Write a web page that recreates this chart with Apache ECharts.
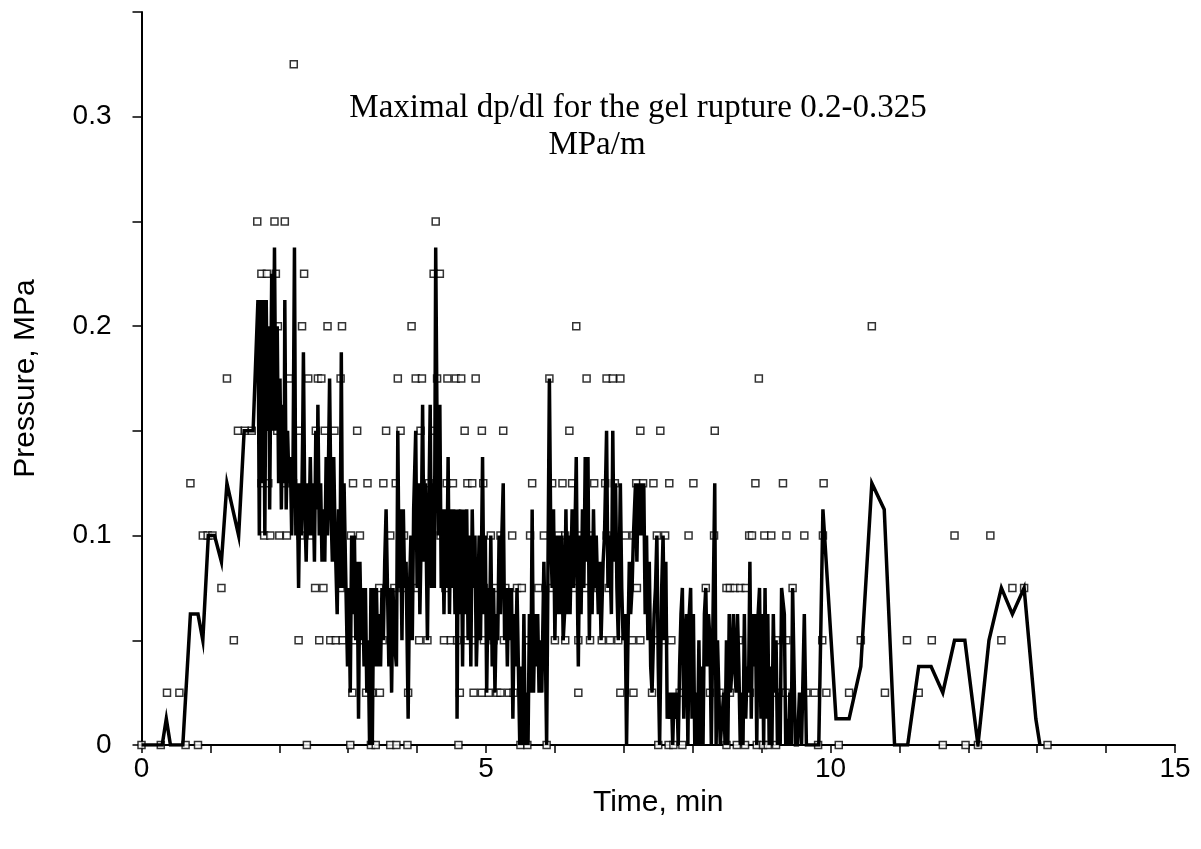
<!DOCTYPE html>
<html><head><meta charset="utf-8">
<script src="https://cdn.jsdelivr.net/npm/echarts@6/dist/echarts.min.js"></script>
<style>html,body{margin:0;padding:0;background:#fff}#c{width:1201px;height:849px}</style>
</head><body><div id="c"></div>
<script>
// ---- data ----
const xLabelTicks = [0, 5, 10, 15];
const yLabelTicks = [0, 0.1, 0.2, 0.3];
const titleLines = ["Maximal dp/dl for the gel rupture 0.2-0.325", "MPa/m"];

// measured points (hollow squares), grouped by pressure level (MPa): times in min
const t_0000 = [0.0,0.28,0.64,0.82,2.40,3.03,3.33,3.40,3.61,3.70,3.86,4.60,5.50,5.60,5.88,7.50,7.65,7.72,7.85,8.49,8.64,8.76,8.93,9.02,9.09,9.21,9.82,10.12,11.63,11.96,12.14,13.15];
const t_0025 = [0.37,0.55,3.06,3.26,3.35,3.46,3.87,4.62,4.82,4.94,5.04,5.16,5.21,5.33,5.40,6.34,6.95,7.14,7.41,7.81,8.25,8.39,8.54,8.83,8.97,9.17,9.29,9.35,9.65,9.77,9.94,10.27,10.79,11.28];
const t_0050 = [1.34,2.28,2.58,2.74,2.82,2.92,3.09,3.18,3.50,4.03,4.15,4.39,4.49,4.58,4.73,4.82,4.97,5.11,5.26,5.60,6.00,6.15,6.34,6.51,6.68,6.80,6.92,7.12,7.24,7.48,7.57,7.69,7.88,8.24,8.67,9.21,9.36,9.88,10.44,11.11,11.47,12.48];
const t_0075 = [1.16,2.52,2.64,2.89,3.45,3.67,3.79,4.00,4.41,4.73,4.97,5.14,5.28,5.45,5.52,5.76,5.96,6.13,6.27,6.44,6.63,6.78,7.19,8.19,8.49,8.54,8.61,8.69,8.77,9.45,12.64,12.81];
const t_0100 = [0.89,0.96,1.03,1.78,1.87,2.00,2.11,2.31,2.47,3.04,3.17,3.61,3.81,4.20,4.34,5.07,5.21,5.38,5.64,5.84,6.05,6.15,6.37,6.51,6.75,7.02,7.14,7.48,7.60,7.94,8.31,8.82,8.86,9.04,9.14,9.36,9.62,9.89,11.80,12.32];
const t_0125 = [0.71,1.74,1.84,2.08,2.20,3.07,3.28,3.51,3.69,4.17,4.30,4.43,4.52,4.73,4.80,4.96,5.67,5.96,6.11,6.25,6.57,6.73,6.87,7.18,7.28,7.43,7.66,8.01,8.91,9.31,9.90];
const t_0150 = [1.40,1.50,1.60,1.97,2.28,2.53,2.66,2.80,3.13,3.55,3.76,4.05,4.24,4.69,4.94,5.25,6.21,7.24,7.53,8.32];
const t_0175 = [1.24,2.14,2.42,2.56,2.61,2.89,3.72,3.98,4.07,4.29,4.44,4.56,4.64,4.85,5.92,6.46,6.75,6.84,6.95,8.96];
const t_0200 = [1.98,2.33,2.70,2.91,3.92,6.31,10.60];
const t_0225 = [1.74,1.82,1.95,2.36,4.24,4.33];
const t_0250 = [1.68,1.93,2.08,4.27];
const t_0325 = [2.21];

// thick line (time, pressure)
const linePoints = [
[0,0],[0.30,0],[0.36,0.0125],[0.42,0],[0.60,0],[0.71,0.0625],[0.82,0.0625],[0.89,0.05],[0.97,0.1],[1.06,0.1],[1.16,0.0875],[1.24,0.125],[1.41,0.1],[1.49,0.15],[1.62,0.15],
[1.69,0.2125],[1.71,0.1],[1.73,0.2125],[1.75,0.125],[1.77,0.2125],[1.79,0.1],[1.81,0.2125],[1.83,0.15],[1.85,0.2],[1.86,0.1125],[1.89,0.225],[1.91,0.15],[1.93,0.2375],[1.95,0.15],[1.97,0.2],
[1.99,0.125],[2.01,0.175],[2.03,0.1125],[2.05,0.1625],[2.07,0.125],[2.08,0.2125],[2.10,0.1125],[2.12,0.15],[2.14,0.125],[2.16,0.1375],[2.18,0.1],[2.20,0.1375],[2.22,0.2375],[2.24,0.1],[2.26,0.125],[2.28,0.075],[2.30,0.125],[2.32,0.1],[2.34,0.15],[2.35,0.1875],[2.37,0.1125],[2.39,0.0875],[2.41,0.125],[2.43,0.1],[2.45,0.1375],[2.47,0.1],[2.49,0.125],[2.51,0.0875],[2.53,0.15],[2.55,0.1125],[2.56,0.1625],[2.58,0.1],[2.60,0.125],[2.62,0.0875],[2.64,0.1125],[2.66,0.0875],[2.68,0.1375],[2.70,0.1],[2.73,0.175],[2.75,0.1125],[2.77,0.0875],[2.79,0.1375],[2.81,0.1],[2.84,0.0625],[2.86,0.1125],[2.88,0.075],[2.90,0.1875],[2.92,0.075],[2.94,0.125],[2.96,0.0875],[2.99,0.0375],
[3.01,0.075],[3.03,0.025],[3.05,0.1],[3.07,0.0625],[3.09,0.1],[3.11,0.05],[3.13,0.0875],[3.15,0.0125],[3.17,0.0875],[3.19,0.05],[3.21,0.075],[3.23,0.0375],[3.25,0.075],[3.27,0.025],[3.29,0.05],[3.31,0],[3.33,0.075],[3.35,0],[3.37,0.075],[3.39,0.0375],[3.41,0.075],[3.43,0.0375],[3.45,0.0625],[3.47,0.0375],[3.49,0.075],[3.51,0.05],[3.53,0.0875],[3.55,0.1125],[3.57,0.075],[3.59,0.0375],[3.61,0.075],[3.63,0.025],[3.65,0.075],[3.67,0.05],[3.70,0.0375],[3.72,0.15],[3.74,0.075],[3.76,0.1125],[3.78,0.05],[3.80,0.1125],[3.82,0.075],[3.84,0.0875],[3.87,0.0125],[3.89,0.075],[3.91,0.1],[3.93,0.05],[3.95,0.1125],[3.98,0.15],
[4.00,0.075],[4.02,0.125],[4.04,0.0625],[4.06,0.1],[4.08,0.1625],[4.10,0.0875],[4.12,0.125],[4.14,0.075],[4.15,0.05],[4.17,0.1125],[4.19,0.1625],[4.21,0.075],[4.23,0.125],[4.25,0.075],[4.27,0.2375],[4.29,0.15],[4.31,0.1],[4.33,0.1625],[4.35,0.075],[4.37,0.1125],[4.39,0.0625],[4.41,0.1125],[4.43,0.075],[4.45,0.1375],[4.47,0.0625],[4.49,0.1125],[4.51,0.075],[4.53,0.1125],[4.55,0.0625],[4.57,0.1125],[4.58,0.0125],[4.60,0.1125],[4.62,0.0625],[4.64,0.1125],[4.66,0.0375],[4.68,0.1125],[4.70,0.0625],[4.72,0.1125],[4.74,0.05],[4.76,0.1],[4.78,0.0375],[4.80,0.1125],[4.82,0.075],[4.84,0.1],[4.86,0.0375],[4.88,0.0625],[4.90,0.1],[4.92,0.05],[4.95,0.1375],[4.97,0.0625],[4.99,0.1],
[5.01,0.025],[5.03,0.075],[5.05,0.05],[5.07,0.1],[5.09,0.0375],[5.11,0.075],[5.13,0.025],[5.15,0.0625],[5.17,0.05],[5.19,0.1],[5.21,0.0625],[5.23,0.1],[5.25,0.125],[5.27,0.05],[5.29,0.075],[5.31,0.0375],[5.33,0.075],[5.35,0.05],[5.37,0.075],[5.39,0.0125],[5.41,0.0625],[5.43,0.0375],[5.45,0.075],[5.47,0.0375],[5.49,0],[5.51,0.0375],[5.53,0],[5.55,0.0625],[5.57,0],[5.59,0.025],[5.61,0],[5.63,0.0625],[5.65,0.025],[5.67,0.1125],[5.69,0.025],[5.71,0.0625],[5.73,0.0375],[5.75,0.0625],[5.77,0.025],[5.79,0.05],[5.81,0.025],[5.84,0.0875],[5.86,0.05],[5.88,0],[5.92,0.175],[5.94,0.1],[5.96,0.075],[5.98,0.1125],
[6.00,0.05],[6.02,0.1],[6.04,0.0625],[6.06,0.1],[6.08,0.0625],[6.10,0.1],[6.12,0.05],[6.14,0.0625],[6.16,0.1125],[6.18,0.0625],[6.20,0.1],[6.22,0.0625],[6.25,0.1125],[6.27,0.075],[6.29,0.1],[6.31,0.1375],[6.33,0.0625],[6.34,0.0375],[6.36,0.1],[6.38,0.0625],[6.40,0.1125],[6.42,0.075],[6.44,0.1375],[6.46,0.0875],[6.48,0.1375],[6.50,0.05],[6.52,0.1],[6.54,0.0625],[6.56,0.1125],[6.58,0.075],[6.60,0.1],[6.63,0.0625],[6.65,0.0875],[6.67,0.05],[6.70,0.0875],[6.72,0.1],[6.75,0.15],[6.77,0.075],[6.79,0.1],[6.82,0.0625],[6.84,0.15],[6.86,0.0875],[6.88,0.125],[6.90,0.075],[6.92,0.05],[6.95,0.125],[6.97,0.075],[6.99,0.05],
[7.02,0.0625],[7.04,0],[7.06,0.05],[7.08,0.0875],[7.10,0.0625],[7.12,0.075],[7.14,0.1],[7.17,0.125],[7.19,0.0875],[7.21,0.125],[7.23,0.1],[7.25,0.125],[7.27,0.1],[7.29,0.125],[7.31,0.0625],[7.33,0.1],[7.35,0.05],[7.37,0.0875],[7.39,0.0375],[7.41,0.025],[7.44,0.0625],[7.46,0.075],[7.48,0.1],[7.50,0.0375],[7.52,0],[7.55,0.075],[7.57,0.1],[7.59,0.05],[7.61,0.0875],[7.63,0.0125],[7.65,0.025],[7.67,0.0125],[7.69,0.025],[7.71,0],[7.73,0.025],[7.75,0.0125],[7.77,0.025],[7.79,0],[7.81,0.0375],[7.83,0.0625],[7.85,0.075],[7.87,0.0125],[7.89,0.05],[7.91,0.0625],[7.93,0],[7.95,0.0625],[7.97,0.075],[7.99,0.0125],
[8.01,0.0625],[8.03,0],[8.05,0.025],[8.07,0],[8.09,0.05],[8.11,0],[8.13,0.0375],[8.15,0],[8.17,0.0625],[8.19,0.075],[8.21,0.0375],[8.23,0.0625],[8.25,0.05],[8.27,0],[8.29,0],[8.32,0.125],[8.34,0],[8.36,0.05],[8.38,0.025],[8.40,0],[8.42,0],[8.45,0.025],[8.47,0],[8.49,0.05],[8.51,0],[8.53,0.0625],[8.55,0.025],[8.57,0.0375],[8.59,0.0625],[8.61,0.0375],[8.63,0.025],[8.65,0.0625],[8.67,0.0375],[8.69,0],[8.71,0.025],[8.73,0],[8.75,0.0625],[8.77,0.0125],[8.79,0.0375],[8.81,0.025],[8.83,0.0875],[8.85,0.0125],[8.87,0.0625],[8.89,0.0375],[8.91,0.0625],[8.93,0],[8.95,0.0625],[8.97,0.075],[8.99,0.0125],
[9.01,0.0625],[9.03,0],[9.05,0.075],[9.07,0.0125],[9.09,0.0625],[9.11,0],[9.13,0.0375],[9.15,0],[9.17,0.0625],[9.19,0.025],[9.21,0.05],[9.23,0],[9.25,0.025],[9.27,0],[9.29,0.075],[9.31,0.075],[9.33,0.0625],[9.35,0],[9.37,0.0125],[9.39,0],[9.41,0.025],[9.43,0],[9.45,0.075],[9.47,0.075],[9.49,0],[9.52,0],[9.55,0.025],[9.58,0],[9.62,0.0625],[9.65,0],[9.83,0],[9.89,0.1125],
[10.08,0.0125],[10.27,0.0125],[10.44,0.0375],[10.60,0.125],[10.78,0.1125],[10.93,0],[11.12,0],[11.28,0.0375],[11.46,0.0375],[11.63,0.025],[11.80,0.05],[11.95,0.05],[12.14,0],[12.30,0.05],[12.48,0.075],[12.64,0.0625],[12.81,0.075],[12.98,0.0125],[13.04,0]
];

// ---- build ----
const groups = [[0,t_0000],[0.025,t_0025],[0.05,t_0050],[0.075,t_0075],[0.1,t_0100],[0.125,t_0125],[0.15,t_0150],[0.175,t_0175],[0.2,t_0200],[0.225,t_0225],[0.25,t_0250],[0.325,t_0325]];
const scatterData = [];
groups.forEach(([p, ts]) => ts.forEach(t => scatterData.push([t, p])));

const isIn = (arr, v) => arr.some(a => Math.abs(a - v) < 1e-6);
const chart = echarts.init(document.getElementById('c'), null, {renderer: 'canvas'});
const axisFont = {fontFamily: 'Liberation Sans, Arial, sans-serif', fontSize: 28, color: '#000'};
const nameFont = {fontFamily: 'Liberation Sans, Arial, sans-serif', fontSize: 30, color: '#000'};
const titleFont = '33px "Liberation Serif", "Times New Roman", serif';
chart.setOption({
  animation: false,
  backgroundColor: '#fff',
  grid: {left: 141.5, right: 26, top: 12, bottom: 104, containLabel: false, outerBoundsMode: 'none'},
  xAxis: {
    type: 'value', min: 0, max: 15, interval: 1,
    name: 'Time, min', nameLocation: 'middle', nameGap: 43, nameTextStyle: nameFont,
    axisLine: {show: true, onZero: false, lineStyle: {color: '#000', width: 2}},
    axisTick: {show: true, inside: false, length: 8, lineStyle: {color: '#000', width: 1.5}},
    axisLabel: Object.assign({margin: 10, formatter: v => isIn(xLabelTicks, v) ? String(v) : ''}, axisFont),
    splitLine: {show: false}
  },
  yAxis: {
    type: 'value', min: 0, max: 0.35, interval: 0.05,
    name: 'Pressure, MPa', nameLocation: 'middle', nameGap: 101, nameRotate: 90, nameTextStyle: nameFont,
    axisLine: {show: true, onZero: false, lineStyle: {color: '#000', width: 2}},
    axisTick: {show: true, inside: false, length: 9, lineStyle: {color: '#000', width: 1.5}},
    axisLabel: Object.assign({margin: 30, formatter: v => isIn(yLabelTicks, v) ? (Math.abs(v) < 1e-9 ? '0' : (+v).toFixed(1)) : ''}, axisFont),
    splitLine: {show: false}
  },
  graphic: [
    {type: 'text', x: 638, y: 108, z: 100, style: {text: titleLines[0], x: 0, y: 0, textAlign: 'center', textVerticalAlign: 'middle', font: titleFont, fill: '#000'}},
    {type: 'text', x: 597, y: 145, z: 100, style: {text: titleLines[1], x: 0, y: 0, textAlign: 'center', textVerticalAlign: 'middle', font: titleFont, fill: '#000'}}
  ],
  series: [
    {type: 'scatter', data: scatterData, symbol: 'rect', symbolSize: 7, z: 2,
     itemStyle: {color: '#fff', borderColor: '#000', borderWidth: 1.5}, silent: true},
    {type: 'line', data: linePoints, showSymbol: false, symbol: 'none', z: 3, silent: true,
     lineStyle: {color: '#000', width: 3.5, join: 'miter'}}
  ]
});
</script></body></html>
